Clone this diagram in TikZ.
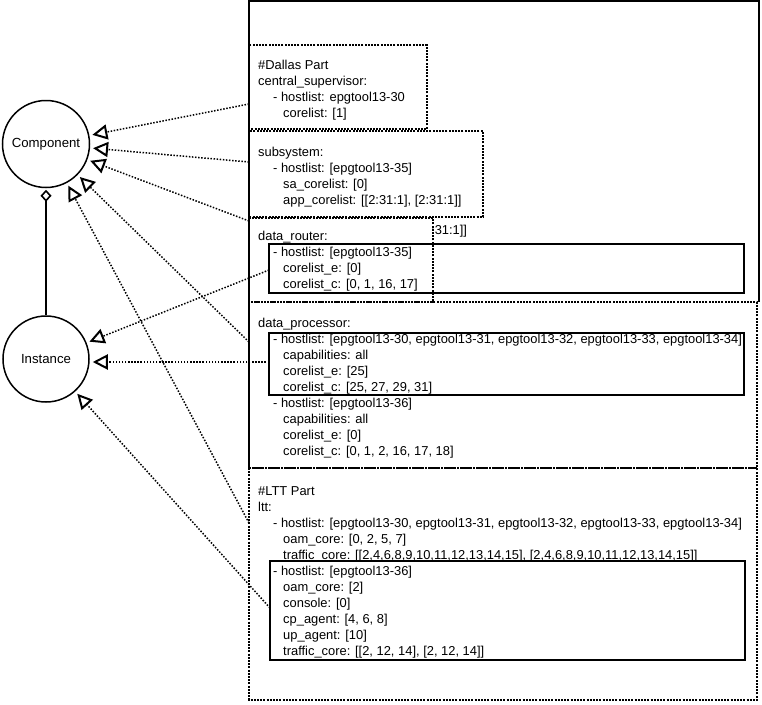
\documentclass[tikz,border=0pt]{standalone}
\usepackage{fontspec}
\setmainfont{Liberation Sans}
\usetikzlibrary{arrows.meta}
\begin{document}
\begin{tikzpicture}[x=1pt,y=-1pt,
  txt/.style={anchor=base west, inner sep=0pt, font=\fontsize{12.9}{15}\selectfont},
  frame/.style={line width=2pt},
  dotbox/.style={line width=2pt, dash pattern=on 2pt off 1.2pt},
  solidbox/.style={line width=2.2pt},
  umlclass/.style={circle, draw, line width=1.5pt, minimum size=87pt, inner sep=0pt,
    font=\fontsize{13.2}{15}\selectfont},
  realize/.style={line width=1.5pt, dash pattern=on 1.5pt off 1.6pt,
    -{Triangle[open,length=15pt,width=15pt,line width=2pt]}, shorten >=3pt},
  aggregate/.style={line width=1.6pt,
    {Diamond[open,length=12pt,width=11pt,line width=1.6pt]}-, shorten <=1.5pt},
]
% canvas
\fill[white] (0,0) rectangle (762,704);
\useasboundingbox (0,0) rectangle (762,704);

% classes
\node[umlclass] (comp) at (46,144) {Component};
\node[umlclass, minimum size=86pt] (inst) at (46,359) {Instance};
\draw[aggregate] (comp) -- (inst);

% configuration sections
\draw[dotbox] (249,45) rectangle (427,129);
\draw[dotbox] (249,131) rectangle (483,217);
\draw[dotbox] (249,218) rectangle (433,302);
\draw[dotbox] (249,302) rectangle (757,468);
\draw[dotbox] (249,468) rectangle (757,700);

% outer frame
\draw[frame] (249,468) -- (249,1) -- (759,1) -- (759,302);

% instance groups
\draw[solidbox] (269,244) rectangle (744,293);
\draw[solidbox] (269,333) rectangle (744,395);
\draw[solidbox] (270,561) rectangle (745,660);

% Dallas part
\node[txt] (d1) at (258,69.5) {\#Dallas Part};
\node[txt] (d2) at (258,85.5) {central\_supervisor:};
\node[txt] (d3) at (273,101.5) {- hostlist: epgtool13-30};
\node[txt] (d4) at (283,117.5) {corelist: [1]};

\node[txt] (s1) at (258,156.5) {subsystem:};
\node[txt] (s2) at (273,172.5) {- hostlist: [epgtool13-35]};
\node[txt] (s3) at (283,188.5) {sa\_corelist: [0]};
\node[txt] (s4) at (283,204.5) {app\_corelist: [[2:31:1], [2:31:1]]};
\node[txt] (s5) at (431,234.5) {:31:1]]};

\node[txt] (r1) at (258,240.5) {data\_router:};
\node[txt] (r2) at (273,256.5) {- hostlist: [epgtool13-35]};
\node[txt] (r3) at (283,272.5) {corelist\_e: [0]};
\node[txt] (r4) at (283,288.5) {corelist\_c: [0, 1, 16, 17]};

\node[txt] (p1) at (258,327.5) {data\_processor:};
\node[txt] (p2) at (273,343.5) {- hostlist: [epgtool13-30, epgtool13-31, epgtool13-32, epgtool13-33, epgtool13-34]};
\node[txt] (p3) at (283,359.5) {capabilities: all};
\node[txt] (p4) at (283,375.5) {corelist\_e: [25]};
\node[txt] (p5) at (283,391.5) {corelist\_c: [25, 27, 29, 31]};
\node[txt] (p6) at (273,407.5) {- hostlist: [epgtool13-36]};
\node[txt] (p7) at (283,423.5) {capabilities: all};
\node[txt] (p8) at (283,439.5) {corelist\_e: [0]};
\node[txt] (p9) at (283,455.5) {corelist\_c: [0, 1, 2, 16, 17, 18]};

% LTT part
\node[txt] (l1) at (258,495.5) {\#LTT Part};
\node[txt] (l2) at (258,511.5) {ltt:};
\node[txt] (l3) at (273,527.5) {- hostlist: [epgtool13-30, epgtool13-31, epgtool13-32, epgtool13-33, epgtool13-34]};
\node[txt] (l4) at (283,543.5) {oam\_core: [0, 2, 5, 7]};
\node[txt] (l5) at (283,559.5) {traffic\_core: [[2,4,6,8,9,10,11,12,13,14,15], [2,4,6,8,9,10,11,12,13,14,15]]};
\node[txt] (l6) at (273,575.5) {- hostlist: [epgtool13-36]};
\node[txt] (l7) at (283,591.5) {oam\_core: [2]};
\node[txt] (l8) at (283,607.5) {console: [0]};
\node[txt] (l9) at (283,623.5) {cp\_agent: [4, 6, 8]};
\node[txt] (l10) at (283,639.5) {up\_agent: [10]};
\node[txt] (l11) at (283,655.5) {traffic\_core: [[2, 12, 14], [2, 12, 14]]};

% realization links
\coordinate (a1) at (249,104);
\coordinate (a2) at (249,162);
\coordinate (a3) at (249,221);
\coordinate (a4) at (249,342);
\coordinate (a5) at (249,523);
\coordinate (b1) at (269,270);
\coordinate (b2) at (269,362);
\coordinate (b3) at (270,608);

\draw[realize] (a1) -- (comp);
\draw[realize] (a2) -- (comp);
\draw[realize] (a3) -- (comp);
\draw[realize] (a4) -- (comp);
\draw[realize] (a5) -- (comp);
\draw[realize] (b1) -- (inst);
\draw[realize] (b2) -- (b2 -| inst.east);
\draw[realize] (b3) -- (inst);
\end{tikzpicture}
\end{document}
